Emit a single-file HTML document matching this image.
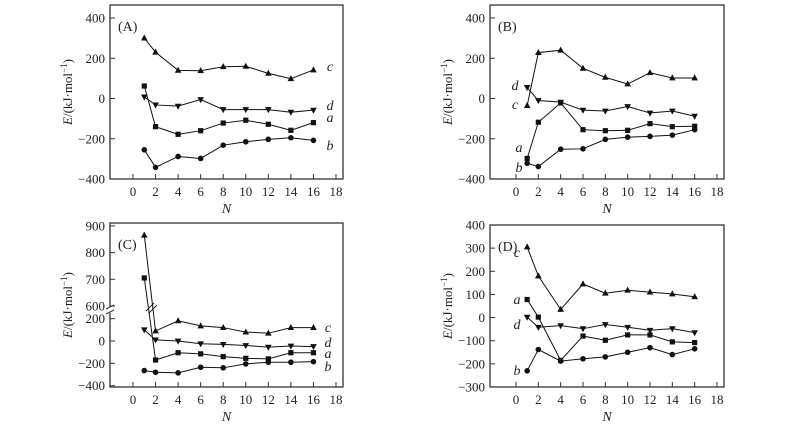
<!DOCTYPE html>
<html><head><meta charset="utf-8"><style>
body{margin:0;background:#fff}
svg{display:block;font-family:"Liberation Serif","Times New Roman",serif}
</style></head><body>
<svg id="chart" width="800" height="428" viewBox="0 0 800 428" xmlns="http://www.w3.org/2000/svg"></svg>
<script>
const nValues=[1,2,4,6,8,10,12,14,16];
const xTickLabels=[0,2,4,6,8,10,12,14,16,18];
const seriesNames=["a","b","c","d"];
// Panel A
const aA=[62,-140,-178,-160,-122,-108,-128,-158,-120];
const bA=[-255,-342,-288,-298,-232,-215,-203,-195,-208];
const cA=[300,230,140,138,158,160,125,98,142];
const dA=[8,-32,-38,-5,-55,-55,-55,-68,-58];
const yTicksA=[400,200,0,-200,-400];
// Panel B
const aB=[-298,-118,-22,-155,-160,-158,-125,-140,-138];
const bB=[-322,-338,-252,-250,-203,-192,-188,-182,-155];
const cB=[-35,228,240,150,105,72,128,102,102];
const dB=[55,-10,-18,-58,-62,-40,-72,-62,-88];
const yTicksB=[400,200,0,-200,-400];
// Panel C
const aC=[705,-170,-105,-115,-140,-155,-160,-105,-105];
const bC=[-265,-280,-285,-235,-240,-205,-190,-190,-185];
const cC=[865,90,180,135,120,80,70,120,120];
const dC=[100,10,0,-25,-30,-40,-55,-45,-50];
const yTicksC=[900,800,700,600,200,0,-200,-400];
// Panel D
const aD=[78,2,-185,-80,-98,-75,-75,-105,-108];
const bD=[-230,-138,-188,-178,-170,-150,-130,-160,-135];
const cD=[305,180,35,145,105,118,110,102,90];
const dD=[2,-42,-35,-48,-30,-42,-55,-48,-65];
const yTicksD=[400,300,200,100,0,-100,-200,-300];

const NS="http://www.w3.org/2000/svg";
const svg=document.getElementById('chart');
function mk(tag,attrs,parent,text){const e=document.createElementNS(NS,tag);for(const k in attrs)e.setAttribute(k,attrs[k]);if(text!==undefined)e.textContent=text;(parent||svg).appendChild(e);return e;}

function linY(v1,p1,v2,p2){return v=>p1+(v-v1)*(p2-p1)/(v2-v1);}

const panels=[
 {id:"A",L:110,T:5,R:343,B:179,x0:133,x18:336,y:linY(400,18,-400,179),ticks:yTicksA,data:[aA,bA,cA,dA],
  labels:{c:[330,67],d:[330,106],a:[330,118],b:[330,146]}},
 {id:"B",L:490,T:5,R:724,B:179,x0:516,x18:717,y:linY(400,18,-400,179),ticks:yTicksB,data:[aB,bB,cB,dB],
  labels:{d:[515,86],c:[515,105],a:[519,148],b:[519,168]}},
 {id:"C",L:110,T:223,R:343,B:387,x0:133,x18:336,
  y:v=>v>400?306-(v-600)*0.267:341-v*0.1117,ticks:yTicksC,data:[aC,bC,cC,dC],
  labels:{c:[328,328],d:[328,343],a:[328,354],b:[328,367]},brk:true},
 {id:"D",L:490,T:225,R:724,B:387,x0:516,x18:717,y:linY(400,225,-300,387),ticks:yTicksD,data:[aD,bD,cD,dD],
  labels:{c:[517,253],a:[517,300],d:[517,325],b:[517,371]}}
];

function marker(g,name,x,y){
  let e;
  if(name==="a"){e=mk('rect',{x:x-2.6,y:y-2.6,width:5.2,height:5.2,fill:'#111'},g);}
  else if(name==="b"){e=mk('circle',{cx:x,cy:y,r:2.8,fill:'#111'},g);}
  else if(name==="c"){e=mk('polygon',{points:`${x},${y-3.6} ${x-3.3},${y+2.4} ${x+3.3},${y+2.4}`,fill:'#111'},g);}
  else {e=mk('polygon',{points:`${x},${y+3.6} ${x-3.3},${y-2.4} ${x+3.3},${y-2.4}`,fill:'#111'},g);}
  
  
}

panels.forEach(p=>{
  const g=mk('g',{});
  
  
  const xs=n=>p.x0+n*(p.x18-p.x0)/18;
  const box=mk('rect',{x:p.L,y:p.T,width:p.R-p.L,height:p.B-p.T,fill:'none',stroke:'#333','stroke-width':1.3},g);
  
  
  xTickLabels.forEach(t=>{
    const x=xs(t);
    mk('line',{x1:x,y1:p.B,x2:x,y2:p.B-5,stroke:'#333','stroke-width':1},g);
    const tl=mk('text',{x:x,y:p.B+17,'font-size':13,'text-anchor':'middle',fill:'#222'},g,String(t));
    
    
  });
  p.ticks.forEach(t=>{
    const y=p.y(t);
    mk('line',{x1:p.L,y1:y,x2:p.L+5,y2:y,stroke:'#333','stroke-width':1},g);
    const lab=t<0?'\u2212'+Math.abs(t):String(t);
    const tl=mk('text',{x:p.L-5,y:y+4.5,'font-size':13,'text-anchor':'end',fill:'#222'},g,lab);
    
    
  });
  if(p.brk){
    mk('rect',{x:p.L-3,y:307,width:6,height:6,fill:'#fff'},g);
    mk('line',{x1:p.L-4,y1:309,x2:p.L+4,y2:305,stroke:'#333','stroke-width':1},g);
    mk('line',{x1:p.L-4,y1:314,x2:p.L+4,y2:310,stroke:'#333','stroke-width':1},g);
    mk('line',{x1:146,y1:311,x2:154,y2:303,stroke:'#222','stroke-width':1},g);
    mk('line',{x1:149,y1:313,x2:157,y2:305,stroke:'#222','stroke-width':1},g);
  }
  const cy=(p.T+p.B)/2;
  const yt=mk('text',{x:0,y:0,'font-size':13,'text-anchor':'middle',fill:'#222',transform:`translate(${p.L-38},${cy}) rotate(-90)`},g);
  yt.innerHTML='<tspan font-style="italic">E</tspan>/(kJ·mol<tspan dy="-5" font-size="9">−1</tspan><tspan dy="5">)</tspan>';
  
  
  const xt=mk('text',{x:(p.L+p.R)/2,y:p.B+34,'font-size':14,'font-style':'italic','text-anchor':'middle',fill:'#222'},g,'N');
  
  
  const pl=mk('text',{x:p.L+8,y:p.T+26,'font-size':14,fill:'#222'},g,'('+p.id+')');
  
  
  p.data.forEach((vals,i)=>{
    const name=seriesNames[i];
    const sg=mk('g',{},g);
    
    
    const pts=vals.map((v,j)=>xs(nValues[j])+','+p.y(v)).join(' ');
    mk('polyline',{points:pts,fill:'none',stroke:'#111','stroke-width':1},sg);
    vals.forEach((v,j)=>marker(sg,name,xs(nValues[j]),p.y(v)));
    const lp=p.labels[name];
    const lt=mk('text',{x:lp[0],y:lp[1]+4,'font-size':14,'font-style':'italic','text-anchor':'middle',fill:'#222'},sg,name);
    
    
  });
});
</script>
</body></html>
